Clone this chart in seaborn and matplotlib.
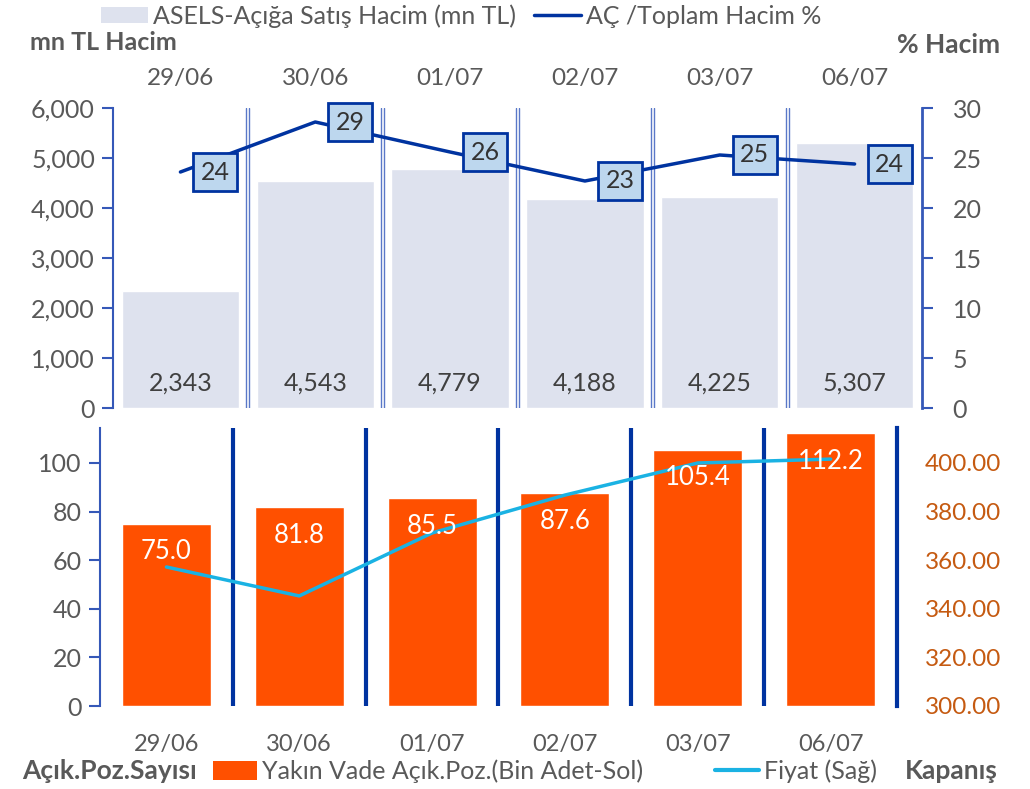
import numpy as np
import pandas as pd
import matplotlib
matplotlib.use("Agg")
import matplotlib.pyplot as plt
from matplotlib.patches import Patch
from matplotlib.lines import Line2D
from matplotlib.ticker import FuncFormatter
import seaborn as sns

# ---- data ----
dates = ["29/06", "30/06", "01/07", "02/07", "03/07", "06/07"]
short_volume = [2343, 4543, 4779, 4188, 4225, 5307]          # mn TL
short_pct = [23.6, 28.6, 25.6, 22.7, 25.3, 24.4]             # %
open_interest = [75.0, 81.8, 85.5, 87.6, 105.4, 112.2]       # bin adet
price = [357.2, 345.3, 371.2, 386.8, 400.0, 401.6]           # TL

top_left_ticks = [0, 1000, 2000, 3000, 4000, 5000, 6000]
top_right_ticks = [0, 5, 10, 15, 20, 25, 30]
bot_left_ticks = [0, 20, 40, 60, 80, 100]
bot_right_ticks = [300, 320, 340, 360, 380, 400]

sns.set_theme(style="white")
plt.rcParams['font.family'] = ['Lato', 'DejaVu Sans']

GREY = "#595959"
DARK = "#0033A0"
MID = "#3558B8"
FS = 18

df = pd.DataFrame({"date": dates, "vol": short_volume, "pct": short_pct,
                   "oi": open_interest, "price": price})
df["pos"] = np.arange(len(df))

fig = plt.figure(figsize=(10.3, 7.89), dpi=100)

# ================= TOP CHART =================
ax1 = fig.add_axes([113/1030, 1-408/789, (922-113)/1030, (408-108)/789])
sns.barplot(data=df, x="date", y="vol", ax=ax1, color="#DEE2EE", width=0.87,
            saturation=1)
ax1.set_xlim(-0.5, len(dates)-0.5)
ax1.set_ylim(0, 6000)
ax1.set_yticks(top_left_ticks)
ax1.yaxis.set_major_formatter(FuncFormatter(lambda v, p: f"{int(v):,}"))
ax1.set_xlabel(""); ax1.set_ylabel("")
ax1.xaxis.tick_top()
ax1.tick_params(axis="x", length=0, pad=14, labelsize=17.5, labelcolor=GREY)
ax1.tick_params(axis="y", direction="out", length=8, width=1.5, color=MID,
                labelsize=FS, labelcolor=GREY, left=True, pad=5)
for s in ["top", "bottom", "right"]:
    ax1.spines[s].set_visible(False)
ax1.spines["left"].set_color(MID)
ax1.spines["left"].set_linewidth(1.5)
for i, v in enumerate(short_volume):
    ax1.text(i, 500, f"{v:,}", ha="center", va="center", fontsize=FS,
             color="#404040")
for i in range(len(dates)-1):
    for d in (-0.012, 0.012):
        ax1.axvline(i+0.5+d, color="#5A78C8", lw=1.0)

ax1r = ax1.twinx()
sns.lineplot(data=df, x="pos", y="pct", ax=ax1r, color=DARK, lw=2.5)
ax1r.set_xlim(-0.5, len(dates)-0.5)
ax1r.set_ylim(0, 30)
ax1r.set_yticks(top_right_ticks)
ax1r.set_xlabel(""); ax1r.set_ylabel("")
ax1r.tick_params(axis="y", direction="out", length=8, width=1.5, color=MID,
                 labelsize=FS, labelcolor=GREY, right=True, pad=14)
for s in ["top", "bottom", "left"]:
    ax1r.spines[s].set_visible(False)
ax1r.spines["right"].set_color(MID)
ax1r.spines["right"].set_linewidth(2)
for i, v in enumerate(short_pct):
    ax1r.annotate(f"{v:.0f}", (i, v), xytext=(35, 0), textcoords="offset pixels",
                  ha="center", va="center", fontsize=FS, color="#333333",
                  bbox=dict(boxstyle="square,pad=0.3", fc="#BDD7EE", ec=DARK, lw=2))

# ================= BOTTOM CHART =================
ax2 = fig.add_axes([100/1030, 1-706/789, (897-100)/1030, (706-428)/789])
sns.barplot(data=df, x="date", y="oi", ax=ax2, color="#FF5000", width=0.67,
            saturation=1)
ax2.set_xlim(-0.5, len(dates)-0.5)
ymax = 114.4
ax2.set_ylim(0, ymax)
ax2.set_yticks(bot_left_ticks)
ax2.set_xlabel(""); ax2.set_ylabel("")
ax2.tick_params(axis="x", length=0, pad=20, labelsize=17, labelcolor=GREY)
ax2.tick_params(axis="y", direction="out", length=8, width=1.5, color=MID,
                labelsize=FS, labelcolor=GREY, left=True, pad=5)
for s in ["top", "bottom", "right"]:
    ax2.spines[s].set_visible(False)
ax2.spines["left"].set_color(MID)
ax2.spines["left"].set_linewidth(1.5)
for i in range(len(dates)-1):
    ax2.axvline(i+0.5, color=DARK, lw=3)

ax2r = ax2.twinx()
sns.lineplot(data=df, x="pos", y="price", ax=ax2r, color="#1AB2E3", lw=2.5)
ax2r.set_xlim(-0.5, len(dates)-0.5)
ax2r.set_ylim(300, 300+ymax)
ax2r.set_yticks(bot_right_ticks)
ax2r.yaxis.set_major_formatter(FuncFormatter(lambda v, p: f"{v:.2f}"))
ax2r.set_xlabel(""); ax2r.set_ylabel("")
ax2r.tick_params(axis="y", length=0, labelsize=17.5, labelcolor="#C55A11", pad=20)
for s in ["top", "bottom", "left"]:
    ax2r.spines[s].set_visible(False)
ax2r.spines["right"].set_color(DARK)
ax2r.spines["right"].set_linewidth(3)
for i, v in enumerate(open_interest):
    ax2r.annotate(f"{v:.1f}", (i, v), xycoords=ax2.transData, xytext=(0, -28),
                  textcoords="offset pixels", ha="center", va="center",
                  fontsize=18.5, color="white", zorder=5)

# ================= LEGENDS & TITLES =================
fig.legend(handles=[Patch(fc="#DEE2EE", ec="none"), Line2D([], [], color=DARK, lw=2.5)],
           labels=["ASELS-Açığa Satış Hacim (mn TL)", "AÇ /Toplam Hacim %"],
           loc="center", bbox_to_anchor=(461/1030, 1-16/789), ncol=2, frameon=False,
           fontsize=18, labelcolor=GREY, handlelength=1.9, handleheight=0.6,
           handletextpad=0.2, columnspacing=0.7, borderpad=0.1)
fig.legend(handles=[Patch(fc="#FF5000", ec="none"), Line2D([], [], color="#1AB2E3", lw=3)],
           labels=["Yakın Vade Açık.Poz.(Bin Adet-Sol)", "Fiyat (Sağ)"],
           loc="center", bbox_to_anchor=(545/1030, 1-771/789), ncol=2, frameon=False,
           fontsize=18, labelcolor=GREY, handlelength=1.75, handleheight=0.8,
           handletextpad=0.2, columnspacing=2.9, borderpad=0.1)
fig.text(30/1030, 1-43/789, "mn TL Hacim", fontsize=18, weight="bold", color=GREY,
         ha="left", va="center")
fig.text(1000/1030, 1-45/789, "% Hacim", fontsize=19, weight="bold", color=GREY,
         ha="right", va="center")
fig.text(22/1030, 1-771/789, "Açık.Poz.Sayısı", fontsize=19, weight="bold", color=GREY,
         ha="left", va="center")
fig.text(998/1030, 1-771/789, "Kapanış", fontsize=19, weight="bold", color=GREY,
         ha="right", va="center")

fig.savefig("out.png", dpi=100)
